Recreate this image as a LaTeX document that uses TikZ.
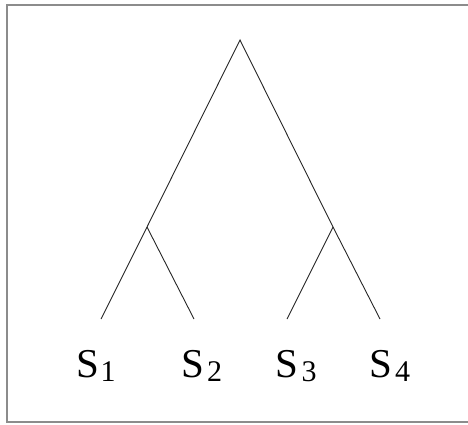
\documentclass[tikz,border=0pt]{standalone}
\usepackage{fontspec}
\setmainfont{Liberation Serif}
\tikzset{
  branch/.style={draw=black!85, line width=0.9pt},
  frame/.style={draw=black!45, line width=1.4pt},
  lab/.style={inner sep=0pt, anchor=base west, font=\fontsize{41}{41}\selectfont},
}
\newcommand{\subdig}[1]{\raisebox{-4pt}{\fontsize{30}{30}\selectfont #1}}
\begin{document}
\begin{tikzpicture}[x=1pt,y=-1pt]
\useasboundingbox (0,0) rectangle (468,424);
\draw[frame] (470,5) -- (7,5) -- (7,422) -- (470,422);
\coordinate (root) at (240,40);
\coordinate (n1) at (147,227);
\coordinate (n2) at (333,227);
\coordinate (l1) at (101,319);
\coordinate (l2) at (194,319);
\coordinate (l3) at (287,319);
\coordinate (l4) at (380,319);
\draw[branch] (l1) -- (n1) -- (root) -- (n2) -- (l4);
\draw[branch] (n1) -- (l2);
\draw[branch] (n2) -- (l3);
\node[lab] (s1) at (76,377) {S\kern1.5pt\subdig{1}};
\node[lab] (s2) at (181,377) {S\kern3pt\subdig{2}};
\node[lab] (s3) at (275,377) {S\kern3.5pt\subdig{3}};
\node[lab] (s4) at (369,377) {S\kern3pt\subdig{4}};
\end{tikzpicture}
\end{document}
